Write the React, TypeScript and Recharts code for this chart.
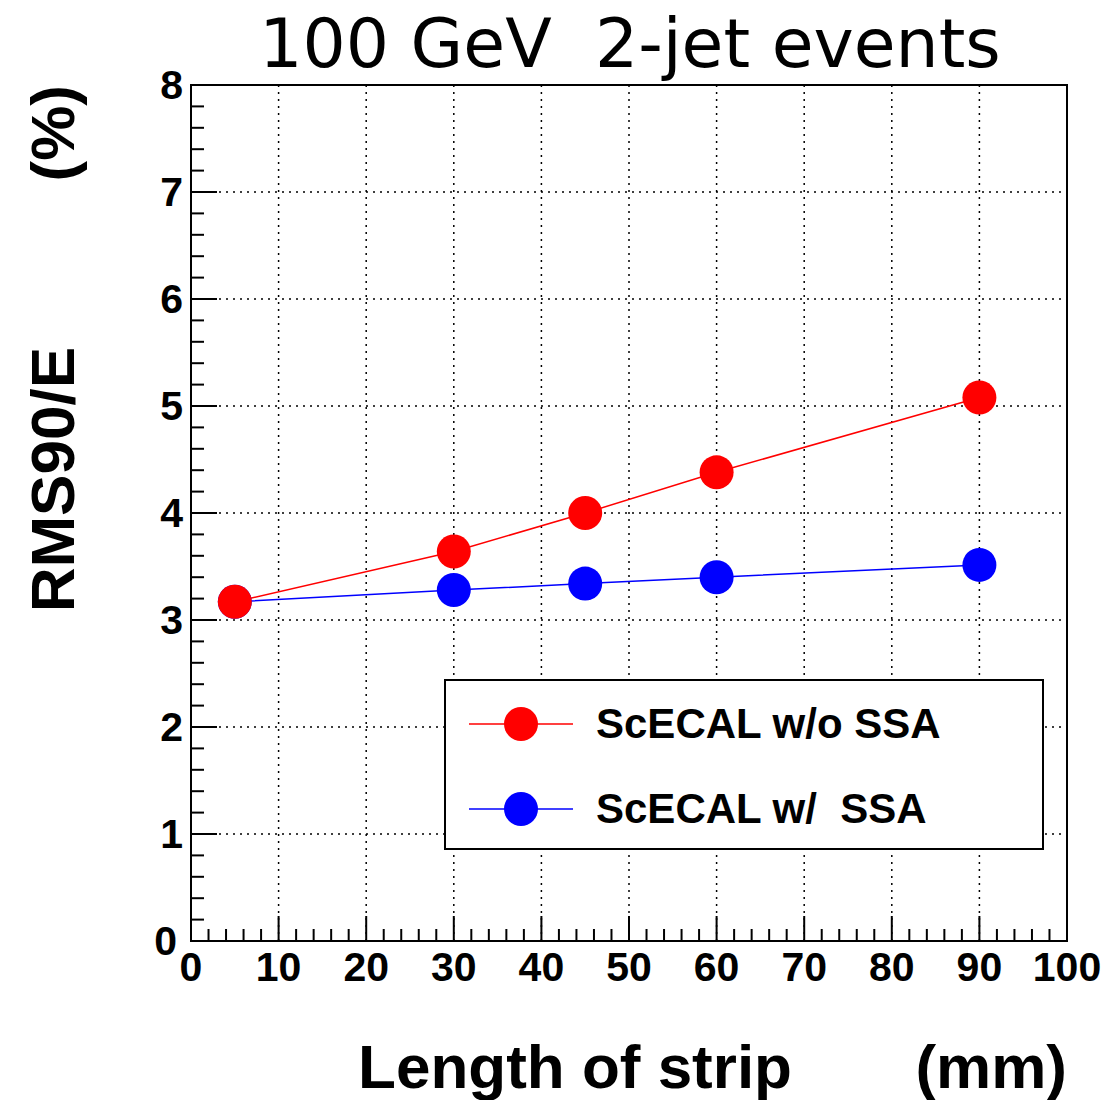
import React from 'react';
import {
  LineChart,
  Line,
  XAxis,
  YAxis,
  CartesianGrid,
  ReferenceArea,
  Legend
} from 'recharts';

// strip length (mm) and RMS90/E (%)
const stripLength = [5, 30, 45, 60, 90];
const rmsWithoutSSA = [3.17, 3.64, 4.0, 4.38, 5.08];
const rmsWithSSA = [3.17, 3.28, 3.34, 3.4, 3.515];

const xTicks = Array.from({ length: 51 }, (_, i) => i * 2);
const yTicks = Array.from({ length: 41 }, (_, i) => +(i * 0.2).toFixed(1));
const xGrid = [10, 20, 30, 40, 50, 60, 70, 80, 90];
const yGrid = [1, 2, 3, 4, 5, 6, 7];

const data = stripLength.map((x, i) => ({
  x,
  without: rmsWithoutSSA[i],
  with: rmsWithSSA[i]
}));

const FONT = '"Liberation Sans", Arial, Helvetica, sans-serif';

const XTick = (props: any) => {
  const { x, y, payload } = props;
  const v = payload.value;
  const major = v % 10 === 0;
  return (
    <g>
      <line x1={x} y1={y} x2={x} y2={y - (major ? 25 : 12)} stroke="#000" strokeWidth={2} />
      {major && (
        <text x={x} y={y + 40} textAnchor="middle" fontFamily={FONT} fontWeight="bold" fontSize={41} fill="#000">
          {v}
        </text>
      )}
    </g>
  );
};

const YTick = (props: any) => {
  const { x, y, payload } = props;
  const v = payload.value;
  const major = Number.isInteger(v);
  return (
    <g>
      <line x1={x} y1={y} x2={x + (major ? 26 : 13)} y2={y} stroke="#000" strokeWidth={2} />
      {major && (
        <text x={v === 0 ? x - 14 : x - 8} y={y + 14} textAnchor="end" fontFamily={FONT} fontWeight="bold" fontSize={41} fill="#000">
          {v}
        </text>
      )}
    </g>
  );
};

const XTitle = (props: any) => {
  const { x, y, width } = props.viewBox;
  return (
    <g fontFamily={FONT} fontWeight="bold" fontSize={62} fill="#000">
      <text x={x + width} y={y + 147} textAnchor="end">(mm)</text>
      <text x={x + width - 275} y={y + 147} textAnchor="end">Length of strip</text>
    </g>
  );
};

const YTitle = (props: any) => {
  const { y } = props.viewBox;
  const tx = 74;
  return (
    <g fontFamily={FONT} fontWeight="bold" fontSize={62} fill="#000">
      <text x={tx} y={y} textAnchor="end" transform={`rotate(-90 ${tx} ${y})`}>(%)</text>
      <text x={tx} y={y + 262} textAnchor="end" transform={`rotate(-90 ${tx} ${y + 262})`}>RMS90/E</text>
    </g>
  );
};

const renderLegend = (props: any) => {
  const items = [...(props.payload || [])].reverse();
  return (
    <div
      style={{
        width: 600,
        height: 171,
        boxSizing: 'border-box',
        border: '2px solid #000',
        background: '#fff',
        position: 'relative'
      }}
    >
      {items.map((p: any, i: number) => (
        <div key={p.value} style={{ position: 'absolute', left: 0, top: 43 + i * 85 - 20, height: 40, width: '100%' }}>
          <svg width={150} height={40} style={{ position: 'absolute', left: 0, top: 0 }}>
            <line x1={23} y1={20} x2={127} y2={20} stroke={p.color} strokeWidth={1.5} />
            <circle cx={75} cy={20} r={17} fill={p.color} />
          </svg>
          <span
            style={{
              position: 'absolute',
              left: 150,
              top: 20,
              transform: 'translateY(-50%)',
              fontFamily: FONT,
              fontWeight: 'bold',
              fontSize: 42,
              lineHeight: '42px',
              whiteSpace: 'pre',
              color: '#000'
            }}
          >
            {p.value}
          </span>
        </div>
      ))}
    </div>
  );
};

const App = () => {
  return (
    <div style={{ position: 'absolute', left: 0, top: 0, width: 1109, height: 1100, background: '#fff' }}>
      <svg width={1109} height={85} style={{ position: 'absolute', left: 0, top: 0 }}>
        <text
          x={630}
          y={67}
          textAnchor="middle"
          fontFamily='"DejaVu Sans", sans-serif'
          fontSize={68}
          fill="#000"
          style={{ whiteSpace: 'pre' }}
        >
          100 GeV  2-jet events
        </text>
      </svg>
      <LineChart
        width={1109}
        height={1100}
        data={data}
        margin={{ top: 85, right: 42, bottom: 0, left: 0 }}
        style={{ position: 'absolute', left: 0, top: 0 }}
      >
        <CartesianGrid
          stroke="#000"
          strokeWidth={1.5}
          strokeDasharray="2 5"
          verticalValues={xGrid}
          horizontalValues={yGrid}
        />
        <XAxis
          type="number"
          dataKey="x"
          domain={[0, 100]}
          ticks={xTicks}
          interval={0}
          height={159}
          tickSize={0}
          tickMargin={0}
          tickLine={false}
          axisLine={{ stroke: '#000', strokeWidth: 2 }}
          tick={<XTick />}
          label={<XTitle />}
          allowDataOverflow
        />
        <YAxis
          type="number"
          domain={[0, 8]}
          ticks={yTicks}
          interval={0}
          width={191}
          tickSize={0}
          tickMargin={0}
          tickLine={false}
          axisLine={{ stroke: '#000', strokeWidth: 2 }}
          tick={<YTick />}
          label={<YTitle />}
          allowDataOverflow
        />
        <ReferenceArea x1={0} x2={100} y1={0} y2={8} fill="none" fillOpacity={0} stroke="#000" strokeWidth={2} />
        <Line
          type="linear"
          dataKey="with"
          name="ScECAL w/  SSA"
          stroke="#0000ff"
          strokeWidth={1.5}
          dot={{ r: 17, fill: '#0000ff', stroke: 'none' }}
          activeDot={false}
          isAnimationActive={false}
        />
        <Line
          type="linear"
          dataKey="without"
          name="ScECAL w/o SSA"
          stroke="#ff0000"
          strokeWidth={1.5}
          dot={{ r: 17, fill: '#ff0000', stroke: 'none' }}
          activeDot={false}
          isAnimationActive={false}
        />
        <Legend
          layout="vertical"
          align="center"
          verticalAlign="middle"
          content={renderLegend}
          wrapperStyle={{ left: 444, top: 679, width: 600, height: 171, margin: 0 }}
        />
      </LineChart>
    </div>
  );
};

export default App;
